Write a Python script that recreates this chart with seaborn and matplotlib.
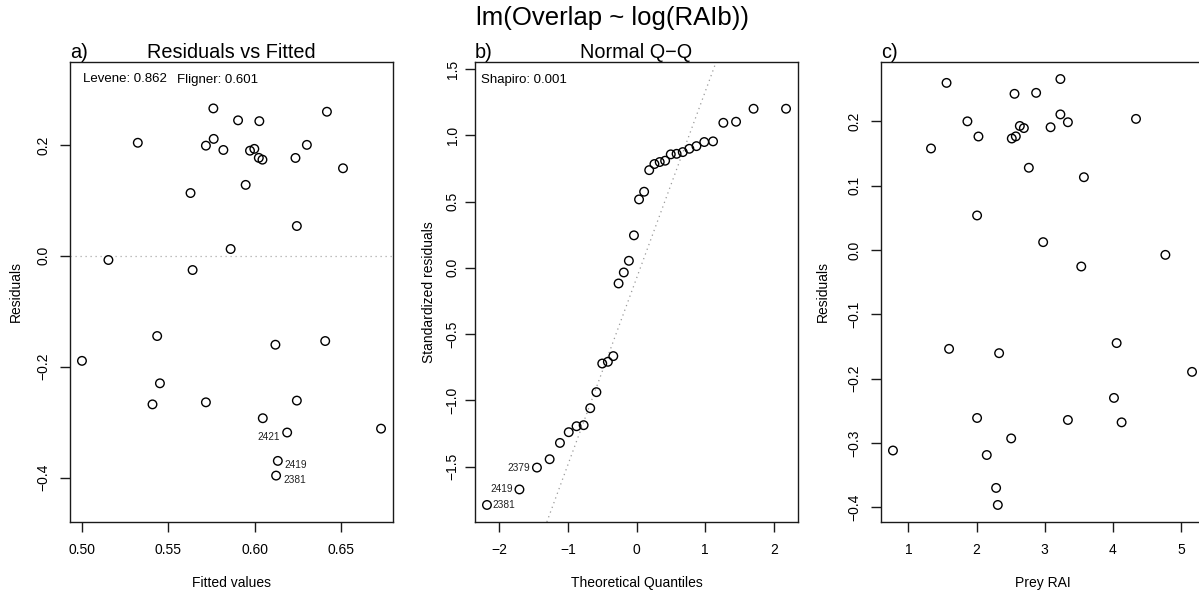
import numpy as np
import pandas as pd
import matplotlib
matplotlib.use("Agg")
import matplotlib.pyplot as plt
import seaborn as sns

# Model diagnostics for lm(Overlap ~ log(RAIb)), one row per observation
fitted = [0.5760, 0.6417, 0.5903, 0.6026, 0.5323, 0.5762, 0.5717, 0.6301, 0.5818,
          0.5972, 0.5997, 0.6023, 0.6044, 0.6235, 0.6510, 0.5947, 0.5628, 0.6243,
          0.5860, 0.5153, 0.5640, 0.5435, 0.6119, 0.6407, 0.5000, 0.5451, 0.5408,
          0.5717, 0.6243, 0.6046, 0.6187, 0.6730, 0.6133, 0.6123]
residuals = [0.266, 0.260, 0.2445, 0.243, 0.204, 0.211, 0.1988, 0.2002, 0.191,
             0.1897, 0.193, 0.1768, 0.1735, 0.1766, 0.158, 0.128, 0.1133, 0.0538,
             0.0123, -0.0075, -0.0256, -0.1447, -0.1604, -0.1537, -0.1895, -0.230,
             -0.268, -0.2643, -0.2612, -0.293, -0.3188, -0.3118, -0.370, -0.3965]
prey_rai = [3.23, 1.56, 2.874, 2.557, 4.339, 3.23, 3.34, 1.866, 3.086, 2.694,
            2.635, 2.576, 2.517, 2.028, 1.332, 2.767, 3.575, 2.008, 2.977, 4.77,
            3.536, 4.055, 2.331, 1.597, 5.161, 4.016, 4.128, 3.34, 2.008, 2.508,
            2.15, 0.774, 2.287, 2.312]

# Normal Q-Q: theoretical quantiles and sorted standardized residuals
theoretical_q = [-2.178, -1.705, -1.450, -1.265, -1.115, -0.987, -0.873, -0.770,
                 -0.674, -0.584, -0.499, -0.417, -0.338, -0.261, -0.185, -0.111,
                 -0.037, 0.037, 0.111, 0.185, 0.261, 0.338, 0.417, 0.499, 0.584,
                 0.674, 0.770, 0.873, 0.987, 1.115, 1.265, 1.450, 1.705, 2.178]
std_residuals = [-1.789, -1.672, -1.507, -1.444, -1.321, -1.240, -1.195, -1.187,
                 -1.059, -0.938, -0.722, -0.709, -0.666, -0.118, -0.035, 0.053,
                 0.245, 0.516, 0.574, 0.737, 0.783, 0.798, 0.808, 0.856, 0.860,
                 0.873, 0.898, 0.918, 0.949, 0.954, 1.094, 1.102, 1.200, 1.200]

# Flagged observations (row index -> id)
resid_flags = {30: ("2421", "left"), 32: ("2419", "right"), 33: ("2381", "right")}
qq_flags = {2: ("2379", "left"), 1: ("2419", "left"), 0: ("2381", "right")}

levene_p = 0.862
fligner_p = 0.601
shapiro_p = 0.001

sns.set_style("white")
plt.rcParams["font.family"] = ["Liberation Sans", "DejaVu Sans"]
plt.rcParams["axes.edgecolor"] = "#1a1a1a"
plt.rcParams["axes.linewidth"] = 1.0
for key in ["text.color", "axes.labelcolor", "xtick.color", "ytick.color"]:
    plt.rcParams[key] = "black"

W, H = 1199, 590
fig = plt.figure(figsize=(W / 100, H / 100), dpi=100)


def panel(x0, x1, y0=62, y1=522):
    ax = fig.add_axes([x0 / W, 1 - y1 / H, (x1 - x0) / W, (y1 - y0) / H])
    ax._px = (x0, x1)
    return ax


def pad(lo, hi, f=0.04):
    span = hi - lo
    return lo - f * span, hi + f * span


def style(ax, xticks, yticks, xfmt, yfmt, ypad=7):
    ax.set_xticks(xticks)
    ax.set_yticks(yticks)
    ax.set_xticklabels([xfmt.format(v).replace("-", "\u2212") for v in xticks])
    ax.set_yticklabels([yfmt.format(v).replace("-", "\u2212") for v in yticks])
    ax.tick_params(direction="out", length=7, width=1, labelsize=10,
                   color="#1a1a1a", left=True, bottom=True)
    ax.tick_params(axis="x", pad=8)
    ax.tick_params(axis="y", pad=ypad)
    for lbl in ax.get_yticklabels():
        lbl.set_rotation(90)
        lbl.set_va("center")
        lbl.set_ha("right")
    for s in ax.spines.values():
        s.set_visible(True)
        s.set_color("#1a1a1a")


def ylabel_at(ax, text, center_px):
    ax.set_ylabel(text, fontsize=10)
    x0, x1 = ax._px
    ax.yaxis.set_label_coords((center_px + 8 - x0) / (x1 - x0), 0.5)


pt = dict(s=38, facecolor="none", edgecolor="black", linewidth=1.0, legend=False)

df = pd.DataFrame({"fitted": fitted, "resid": residuals, "prey": prey_rai})
qq = pd.DataFrame({"q": theoretical_q, "sr": std_residuals})

# a) Residuals vs Fitted
ax1 = panel(70, 393)
sns.scatterplot(data=df, x="fitted", y="resid", ax=ax1, **pt)
ax1.axhline(0, color="#aaaaaa", linestyle=(0, (1, 3)), linewidth=0.9, zorder=0)
ax1.set_xlim(*pad(min(fitted), max(fitted)))
r_lo, r_hi = pad(min(residuals), max(residuals), 0.08)
ax1.set_ylim(*pad(r_lo, r_hi))
style(ax1, [0.50, 0.55, 0.60, 0.65], [-0.4, -0.2, 0.0, 0.2], "{:.2f}", "{:.1f}")
for i, (lab, side) in resid_flags.items():
    off = (-5, -3) if side == "left" else (5, -3)
    ax1.annotate(lab, (fitted[i], residuals[i]), xytext=off, textcoords="offset points",
                 ha="right" if side == "left" else "left", va="center",
                 fontsize=7.3, color="#222222")
ax1.text(0.04, 0.975, f"Levene: {levene_p:.3f}", transform=ax1.transAxes,
         ha="left", va="top", fontsize=9.5)
ax1.text(0.33, 0.975, f"Fligner: {fligner_p:.3f}", transform=ax1.transAxes,
         ha="left", va="top", fontsize=9.5)
ax1.set_xlabel("Fitted values", fontsize=10, labelpad=14)
ylabel_at(ax1, "Residuals", 15)
ax1.set_title("Residuals vs Fitted", fontsize=14.3, pad=3)
ax1.text(0.0, 1.0, "a)", transform=ax1.transAxes, ha="left", va="bottom", fontsize=14.3)

# b) Normal Q-Q
ax2 = panel(475, 798)
sns.scatterplot(data=qq, x="q", y="sr", ax=ax2, **pt)
q1, q3 = np.percentile(std_residuals, [25, 75])
slope = (q3 - q1) / (0.6744898 * 2)
intercept = q1 + slope * 0.6744898
ax2.axline((0, intercept), slope=slope, color="#999999", linestyle=(0, (1, 3)),
           linewidth=0.9, zorder=0)
ax2.set_xlim(*pad(min(theoretical_q), max(theoretical_q)))
s_lo, s_hi = min(std_residuals), max(std_residuals)
s_hi = s_hi + (s_hi - s_lo) * 0.075
ax2.set_ylim(*pad(s_lo, s_hi))
style(ax2, [-2, -1, 0, 1, 2], [-1.5, -1.0, -0.5, 0.0, 0.5, 1.0, 1.5], "{:d}", "{:.1f}",
      ypad=4)
for i, (lab, side) in qq_flags.items():
    off = (-5, 0) if side == "left" else (4, 0)
    ax2.annotate(lab, (theoretical_q[i], std_residuals[i]), xytext=off,
                 textcoords="offset points",
                 ha="right" if side == "left" else "left", va="center",
                 fontsize=7.3, color="#222222")
ax2.text(0.02, 0.975, f"Shapiro: {shapiro_p:.3f}", transform=ax2.transAxes,
         ha="left", va="top", fontsize=9.5)
ax2.set_xlabel("Theoretical Quantiles", fontsize=10, labelpad=14)
ylabel_at(ax2, "Standardized residuals", 428)
ax2.set_title("Normal Q\u2212Q", fontsize=14.3, pad=3)
ax2.text(0.0, 1.0, "b)", transform=ax2.transAxes, ha="left", va="bottom", fontsize=14.3)

# c) Residuals against prey relative abundance
ax3 = panel(881, 1204)
sns.scatterplot(data=df, x="prey", y="resid", ax=ax3, **pt)
ax3.set_xlim(*pad(min(prey_rai), max(prey_rai)))
ax3.set_ylim(*pad(min(residuals), max(residuals)))
style(ax3, [1, 2, 3, 4, 5], [-0.4, -0.3, -0.2, -0.1, 0.0, 0.1, 0.2], "{:d}", "{:.1f}")
ax3.set_xlabel("Prey RAI", fontsize=10, labelpad=14)
ylabel_at(ax3, "Residuals", 822)
ax3.text(0.0, 1.0, "c)", transform=ax3.transAxes, ha="left", va="bottom", fontsize=14.3)

fig.text(612 / W, 1 - 18 / H, "lm(Overlap ~ log(RAIb))", ha="center", va="center",
         fontsize=18.5)

fig.savefig("out.png", dpi=100)
